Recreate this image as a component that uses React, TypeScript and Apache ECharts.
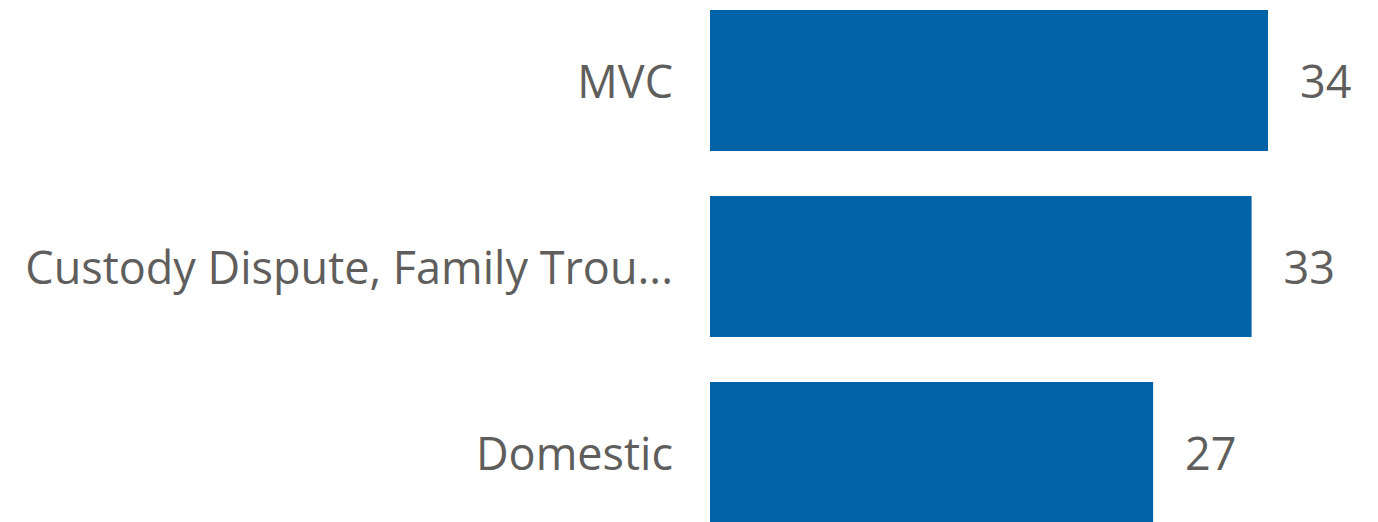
import React, { useEffect, useRef } from "react";
import * as echarts from "echarts";

const categories = ["MVC", "Custody Dispute, Family Trou...", "Domestic"];
const values = [34, 33, 27];

export default function App() {
  const ref = useRef<HTMLDivElement>(null);
  useEffect(() => {
    const chart = echarts.init(ref.current!, null, { renderer: "svg" });
    chart.setOption({
      animation: false,
      grid: {
        left: 710,
        top: -12.5,
        height: 558,
        width: 558,
        containLabel: false,
        outerBoundsMode: "none",
      },
      xAxis: { type: "value", min: 0, max: 34, show: false },
      yAxis: {
        type: "category",
        data: categories,
        inverse: true,
        axisLine: { show: false },
        axisTick: { show: false },
        axisLabel: {
          margin: 37,
          fontSize: 45,
          color: "#605E5C",
          fontFamily: "'Segoe UI', 'Open Sans', sans-serif",
        },
      },
      series: [
        {
          type: "bar",
          data: values,
          barWidth: 141,
          itemStyle: { color: "#0063A8" },
          label: {
            show: true,
            position: "right",
            distance: 32,
            fontSize: 45,
            color: "#605E5C",
            fontFamily: "'Segoe UI', 'Open Sans', sans-serif",
          },
        },
      ],
    });
    return () => chart.dispose();
  }, []);
  return (
    <div
      ref={ref}
      style={{ position: "absolute", left: 0, top: 0, width: 1378, height: 522 }}
    />
  );
}
